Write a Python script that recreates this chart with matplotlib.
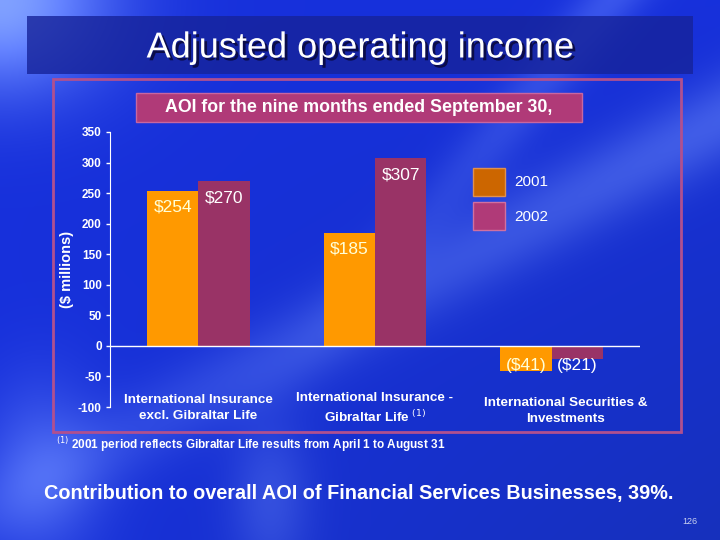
import numpy as np
import matplotlib
matplotlib.use("Agg")
import matplotlib.pyplot as plt
from matplotlib.patches import Rectangle, Patch
import matplotlib.patheffects as pe

# data
categories = ["International Insurance\nexcl. Gibraltar Life",
              "International Insurance -\nGibraltar Life $^{(1)}$",
              "International Securities &\nInvestments"]
years = ["2001", "2002"]
aoi_2001 = [254, 185, -41]
aoi_2002 = [270, 307, -21]
value_labels_2001 = ["$254", "$185", "($41)"]
value_labels_2002 = ["$270", "$307", "($21)"]
y_ticks = [-100, -50, 0, 50, 100, 150, 200, 250, 300, 350]

SANS = ["Liberation Sans", "DejaVu Sans"]
plt.rcParams["font.family"] = SANS
W, H = 720, 540

fig = plt.figure(figsize=(7.2, 5.4), dpi=100)


def px(x0, y0, x1, y1):
    # pixel box (top-left origin) -> figure fraction rect
    return [x0 / W, 1 - y1 / H, (x1 - x0) / W, (y1 - y0) / H]


# --- background: blue slide with light streaks ---
bg = fig.add_axes([0, 0, 1, 1])
yy, xx = np.mgrid[0:H, 0:W].astype(float)
img = np.zeros((H, W, 3))
img[..., 0], img[..., 1], img[..., 2] = 0.09, 0.19, 0.86
img[..., 2] -= 0.12 * (yy / H) * (xx / W)


def streak(px0, py0, angle, width, strength):
    d = (xx - px0) * np.sin(angle) - (yy - py0) * np.cos(angle)
    return strength * np.exp(-(d / width) ** 2)


fade = np.clip(1 - (yy / 420), 0, 1)
glow = (streak(720, 120, np.radians(-28), 40, 0.22) * (0.4 + 0.6 * (xx / W))
        + streak(560, 60, np.radians(-50), 28, 0.18) * fade
        + 0.55 * np.exp(-((xx / 110) ** 2 + (yy / 90) ** 2))
        + 0.22 * np.exp(-(((xx - 40) / 60) ** 2 + ((yy - 470) / 90) ** 2))
        + 0.15 * np.exp(-(((xx - 270) / 40) ** 2 + ((yy - 500) / 80) ** 2)))
img[..., 0] += glow * 0.75
img[..., 1] += glow * 0.80
img[..., 2] += glow * 0.35
bg.imshow(np.clip(img, 0, 1), extent=[0, W, H, 0], aspect="auto")
bg.set_xlim(0, W)
bg.set_ylim(H, 0)
bg.axis("off")

# title band
bg.add_patch(Rectangle((27, 16), 666, 58, facecolor="#16239a", alpha=0.8, lw=0))
bg.text(360, 48, "Adjusted operating income", color="white", fontsize=26,
        ha="center", va="center",
        path_effects=[pe.withSimplePatchShadow(offset=(2, -2), shadow_rgbFace="#0a0a40", alpha=0.9)])

# chart frame and subtitle box
bg.add_patch(Rectangle((53, 79), 628, 353, facecolor="none", edgecolor="#b0508f", lw=2))
bg.add_patch(Rectangle((136, 93), 446, 29, facecolor="#b03a78", edgecolor="#c866a0", lw=1))
bg.text(359, 107.5, "AOI for the nine months ended September 30,", color="white",
        fontsize=12.8, fontweight="bold", ha="center", va="center")

# footnote and bottom line
bg.text(56, 445, "$^{(1)}$ 2001 period reflects Gibraltar Life results from April 1 to August 31",
        color="white", fontsize=8.5, fontweight="bold", ha="left", va="center")
bg.text(359, 494, "Contribution to overall AOI of Financial Services Businesses, 39%.",
        color="white", fontsize=14.3, fontweight="bold", ha="center", va="center")
bg.text(697, 522, "126", color="#c8d0f0", fontsize=6.5, ha="right", va="center")

# --- bar chart ---
ax = fig.add_axes(px(110, 132, 640, 407))
ax.patch.set_alpha(0)
x = np.arange(len(categories))
bw = 0.29
bars1 = ax.bar(x - bw / 2, aoi_2001, bw, color="#ff9900", label=years[0])
bars2 = ax.bar(x + bw / 2, aoi_2002, bw, color="#993366", label=years[1])

ax.set_xlim(-0.5, 2.5)
ax.set_ylim(-100, 350)
ax.set_yticks(y_ticks)
ax.set_yticklabels([str(t) for t in y_ticks], color="white", fontweight="bold",
                   fontsize=8.5)
ax.tick_params(axis="y", colors="white", length=3, width=1, pad=3)
ax.set_xticks([])
for s in ("top", "right", "bottom"):
    ax.spines[s].set_visible(False)
ax.spines["left"].set_color("white")
ax.axhline(0, color="white", lw=1)
ax.set_ylabel("($ millions)", color="white", fontweight="bold", fontsize=10.5,
              labelpad=3)

for bars, labels, tc in ((bars1, value_labels_2001, "#ffffd8"), (bars2, value_labels_2002, "white")):
    for b, lab in zip(bars, labels):
        v = b.get_height()
        cx = b.get_x() + b.get_width() / 2
        yref, off = (v, -12) if v > 0 else (0, -14)
        ax.annotate(lab, (cx, yref), xytext=(0, off), textcoords="offset points",
                    ha="center", va="center", color=tc, fontsize=12.5)

cat_offsets = [(0, 0), (0, 0), (10, -2)]
for i, (cat, (dx, dy)) in enumerate(zip(categories, cat_offsets)):
    ax.annotate(cat, (i, -100), xytext=(dx, -1 + dy), textcoords="offset points",
                ha="center", va="center", color="white", fontsize=9.7,
                fontweight="bold", linespacing=1.45)

handles = [Patch(facecolor="#cc6600", edgecolor="#e09050", label=years[0]),
           Patch(facecolor="#b03a78", edgecolor="#d070a0", label=years[1])]
fig.legend(handles=handles, loc="upper left", bbox_to_anchor=(473 / W, 1 - 168 / H),
           frameon=False, fontsize=11, labelcolor="white", handlelength=2.1,
           handleheight=2.4, handletextpad=0.6, labelspacing=0.45,
           borderpad=0, borderaxespad=0)

fig.savefig("out.png", dpi=100)
